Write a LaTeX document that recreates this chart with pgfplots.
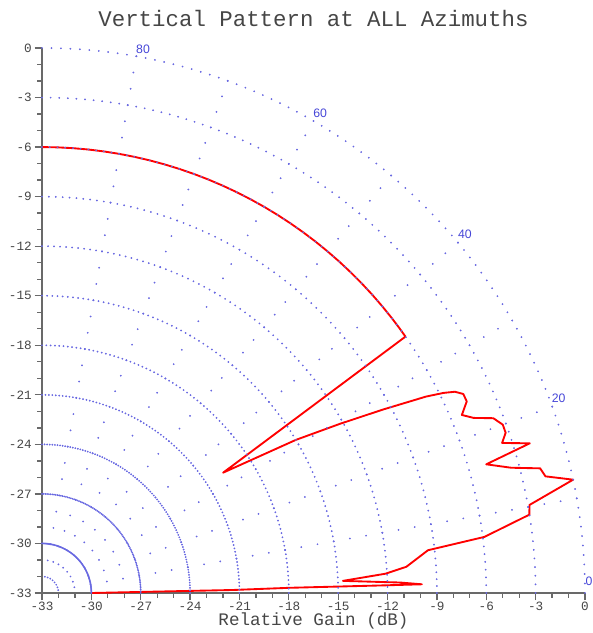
\documentclass[border=0pt]{standalone}
\usepackage{fontspec}
\setmainfont{Liberation Mono}
\newfontfamily\labelsans{Liberation Sans}
\usepackage{pgfplots}
\pgfplotsset{compat=1.18}
\usepackage{pgfplotstable}
\definecolor{griddot}{RGB}{105,105,225}
\definecolor{anglab}{RGB}{70,70,215}
\definecolor{axgray}{RGB}{105,105,105}
\definecolor{txtgray}{RGB}{70,70,70}

% elevation angle (deg), relative gain (dB)
\pgfplotstableread{
angle gain
90 -6
88 -6
86 -6
84 -6
82 -6
80 -6
78 -6
76 -6
74 -6
72 -6
70 -6
68 -6
66 -6
64 -6
62 -6
60 -6
58 -6
56 -6
54 -6
52 -6
50 -6
48 -6
46 -6
44 -6
42 -6
40 -6
38 -6
36.5 -6
35.1 -6
33.5 -19.8
31.0 -15.0
29.5 -12.2
28.2 -9.5
27.0 -6.8
26.4 -5.75
25.9 -5.1
25.2 -4.7
24.2 -4.7
22.9 -5.3
22.0 -4.7
21.1 -3.6
20.0 -3.2
19.0 -3.2
18.0 -3.6
17.0 -2.0
16.1 -4.9
14.9 -3.5
14.0 -1.8
13.0 -1.6
12.0 0.0
10.2 -2.9
9.1 -3.0
7.2 -5.9
6.3 -9.4
4.1 -10.8
3.2 -12.1
2.3 -14.7
1.67 -11.23
1.31 -9.91
1.27 -12.44
1.2 -17.92
0.9 -21.39
0.8 -24.31
0 -30
}\vpdata

\pgfplotsset{
  arcdots/.style={only marks, mark=*, mark size=0.45pt, color=griddot, samples=91, domain=0:90, variable=\t},
  raddots/.style={only marks, mark=*, mark size=0.45pt, color=griddot, samples=33, domain=1:33, variable=\t},
}
\tikzset{anglabel/.style={font=\labelsans\fontsize{9.2}{10}\selectfont, text=anglab}}

\begin{document}
\begin{tikzpicture}
\begin{axis}[name=ax, scale only axis, width=407.25pt, height=408.75pt,
  xmin=-33, xmax=0, ymin=-33, ymax=0,
  axis lines=left, axis line style={-, axgray, line width=1.4pt},
  xtick={-33,-30,...,0}, ytick={-33,-30,...,0},
  xticklabels={-33,-30,-27,-24,-21,-18,-15,-12,-9,-6,-3,0},
  yticklabels={-33,-30,-27,-24,-21,-18,-15,-12,-9,-6,-3,0},
  minor x tick num=2, minor y tick num=2,
  tick align=outside, major tick length=5.5pt, minor tick length=3.5pt,
  every tick/.style={axgray, line width=1pt},
  ticklabel style={font=\fontsize{9.5}{10}\selectfont, text=txtgray},
  xticklabel style={inner sep=1pt},
  yticklabel style={inner sep=2pt},
  clip=false,
]
% range circles: one dot per degree
\addplot[arcdots] ({-33+3*cos(\t)},{-33+3*sin(\t)});
\addplot[arcdots] ({-33+6*cos(\t)},{-33+6*sin(\t)});
\addplot[arcdots] ({-33+9*cos(\t)},{-33+9*sin(\t)});
\addplot[arcdots] ({-33+12*cos(\t)},{-33+12*sin(\t)});
\addplot[arcdots] ({-33+15*cos(\t)},{-33+15*sin(\t)});
\addplot[arcdots] ({-33+18*cos(\t)},{-33+18*sin(\t)});
\addplot[arcdots] ({-33+21*cos(\t)},{-33+21*sin(\t)});
\addplot[arcdots] ({-33+24*cos(\t)},{-33+24*sin(\t)});
\addplot[arcdots] ({-33+27*cos(\t)},{-33+27*sin(\t)});
\addplot[arcdots] ({-33+30*cos(\t)},{-33+30*sin(\t)});
\addplot[arcdots] ({-33+33*cos(\t)},{-33+33*sin(\t)});
% radial lines: one dot per dB
\addplot[raddots] ({-33+\t*cos(10)},{-33+\t*sin(10)});
\addplot[raddots] ({-33+\t*cos(20)},{-33+\t*sin(20)});
\addplot[raddots] ({-33+\t*cos(30)},{-33+\t*sin(30)});
\addplot[raddots] ({-33+\t*cos(40)},{-33+\t*sin(40)});
\addplot[raddots] ({-33+\t*cos(50)},{-33+\t*sin(50)});
\addplot[raddots] ({-33+\t*cos(60)},{-33+\t*sin(60)});
\addplot[raddots] ({-33+\t*cos(70)},{-33+\t*sin(70)});
\addplot[raddots] ({-33+\t*cos(80)},{-33+\t*sin(80)});

\addplot[red, line width=1.4pt, line join=round] table[
  x expr={-33+(\thisrow{gain}+33)*cos(\thisrow{angle})},
  y expr={-33+(\thisrow{gain}+33)*sin(\thisrow{angle})}] {\vpdata};

\node[anglabel] at (axis cs:-26.86,-0.1) {80};
\node[anglabel] at (axis cs:-16.1,-3.97) {60};
\node[anglabel] at (axis cs:-7.3,-11.3) {40};
\node[anglabel] at (axis cs:-1.6,-21.2) {20};
\node[anglabel] at (axis cs:0.25,-32.3) {0};

\node[anchor=base, font=\fontsize{16.8}{18}\selectfont, text=txtgray, yshift=15.75pt] at (rel axis cs:0.5,1) {Vertical Pattern at ALL Azimuths};
\node[anchor=base, inner sep=0pt, font=\fontsize{13.2}{14}\selectfont, text=txtgray, yshift=-24.5pt] at (rel axis cs:0.5,0) {Relative Gain (dB)};
\end{axis}
\pgfresetboundingbox
\path ([xshift=-31.5pt,yshift=-30pt]ax.south west) rectangle ([xshift=5.25pt,yshift=36pt]ax.north east);
\end{tikzpicture}
\end{document}
